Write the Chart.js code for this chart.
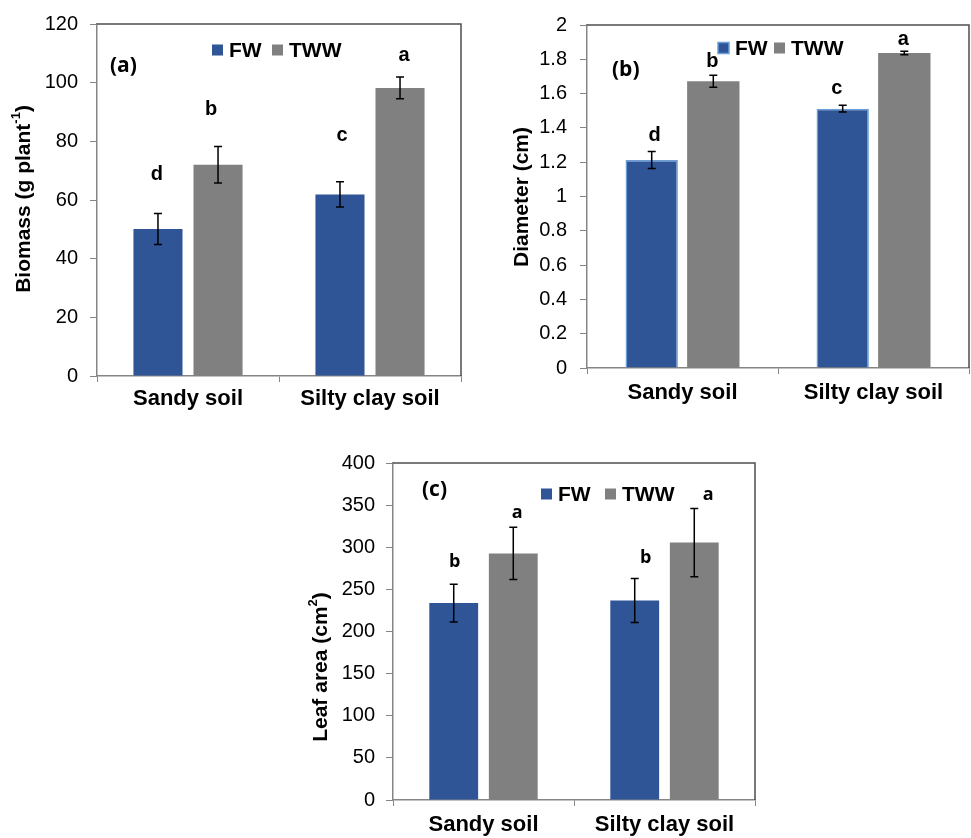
<!DOCTYPE html>
<html>
<head>
<meta charset="utf-8">
<script src="https://cdn.jsdelivr.net/npm/chart.js@4.4.1/dist/chart.umd.min.js"></script>
<style>
  body { margin: 0; background: #fff; width: 971px; height: 838px; position: relative; overflow: hidden; }
  canvas { position: absolute; }
</style>
</head>
<body>
<canvas id="chartA" width="475" height="420" style="left:0;top:0"></canvas>
<canvas id="chartB" width="481" height="420" style="left:490px;top:0"></canvas>
<canvas id="chartC" width="480" height="398" style="left:300px;top:440px"></canvas>
<script>
// ---------- Data ----------
const categories = ["Sandy soil", "Silty clay soil"];
const seriesNames = ["FW", "TWW"];

// (a) biomass, g plant-1
const biomassFW = [50.1, 61.9];
const biomassTWW = [72.0, 98.2];
const biomassFWErr = [5.3, 4.3];
const biomassTWWErr = [6.2, 3.7];
const biomassLettersFW = ["d", "c"];
const biomassLettersTWW = ["b", "a"];
const biomassTicks = ["0", "20", "40", "60", "80", "100", "120"];

// (b) diameter, cm
const diameterFW = [1.213, 1.512];
const diameterTWW = [1.672, 1.837];
const diameterFWErr = [0.05, 0.02];
const diameterTWWErr = [0.035, 0.01];
const diameterLettersFW = ["d", "c"];
const diameterLettersTWW = ["b", "a"];
const diameterTicks = ["0", "0.2", "0.4", "0.6", "0.8", "1", "1.2", "1.4", "1.6", "1.8", "2"];

// (c) leaf area, cm2
const leafFW = [233.8, 236.8];
const leafTWW = [292.7, 305.5];
const leafFWErr = [22.4, 26.1];
const leafTWWErr = [31.0, 40.5];
const leafLettersFW = ["b", "b"];
const leafLettersTWW = ["a", "a"];
const leafTicks = ["0", "50", "100", "150", "200", "250", "300", "350", "400"];

// ---------- Colors / fonts ----------
const FW_COLOR = "#2F5597";
const TWW_COLOR = "#808080";
const AXIS_COLOR = "#858585";
const FRAME_COLOR = "#4d4d4d";
const ARIAL = "'Liberation Sans', Arial, sans-serif";
const CALIBRI = "'Open Sans', 'Liberation Sans', sans-serif";

// ---------- Extras plugin: frame, error bars, letters, legend, tag, y title ----------
function drawRich(ctx, parts, size, font) {
  let total = 0;
  parts.forEach(p => {
    ctx.font = "bold " + (p.sup ? Math.round(size * 0.62) : size) + "px " + font;
    p.w = ctx.measureText(p.text).width;
    total += p.w;
  });
  let x = -total / 2;
  parts.forEach(p => {
    ctx.font = "bold " + (p.sup ? Math.round(size * 0.62) : size) + "px " + font;
    ctx.fillText(p.text, x, p.sup ? -size * 0.36 : 0);
    x += p.w;
  });
}

const extras = {
  id: "extras",
  afterDatasetsDraw(chart, args, o) {
    const ctx = chart.ctx;
    const area = chart.chartArea;
    const y = chart.scales.y;
    ctx.save();

    // top and right frame
    ctx.strokeStyle = FRAME_COLOR;
    ctx.lineWidth = 1.5;
    ctx.beginPath();
    ctx.moveTo(area.left, area.top);
    ctx.lineTo(area.right, area.top);
    ctx.lineTo(area.right, area.bottom);
    ctx.stroke();

    // error bars and letters
    chart.data.datasets.forEach((ds, di) => {
      const meta = chart.getDatasetMeta(di);
      meta.data.forEach((bar, i) => {
        const v = ds.data[i], e = ds.errors[i];
        const yTop = y.getPixelForValue(v + e);
        const yBot = y.getPixelForValue(v - e);
        ctx.strokeStyle = "#000";
        ctx.lineWidth = 1.5;
        ctx.beginPath();
        ctx.moveTo(bar.x, yTop); ctx.lineTo(bar.x, yBot);
        ctx.moveTo(bar.x - 4, yTop); ctx.lineTo(bar.x + 4, yTop);
        ctx.moveTo(bar.x - 4, yBot); ctx.lineTo(bar.x + 4, yBot);
        ctx.stroke();

        const shift = o.letterShift[di][i];
        ctx.fillStyle = "#000";
        ctx.font = "bold " + o.letterSize + "px " + o.letterFont;
        ctx.textAlign = "center";
        ctx.textBaseline = "middle";
        ctx.fillText(ds.letters[i], bar.x + shift[0], yTop - shift[1]);
      });
    });

    // legend
    ctx.textAlign = "left";
    ctx.textBaseline = "middle";
    ctx.font = "bold 21px " + ARIAL;
    chart.data.datasets.forEach((ds, di) => {
      const lx = area.left + o.legendX[di];
      const ly = area.top + o.legendY;
      ctx.fillStyle = ds.backgroundColor;
      ctx.fillRect(lx, ly - 5.5, 11, 11);
      if (ds.borderWidth) {
        ctx.strokeStyle = ds.borderColor;
        ctx.lineWidth = 1.5;
        ctx.strokeRect(lx, ly - 5.5, 11, 11);
      }
      ctx.fillStyle = "#000";
      ctx.fillText(ds.label, lx + 17, ly + 1);
    });

    // panel tag
    ctx.font = "bold 21px " + CALIBRI;
    ctx.fillText(o.tag, area.left + o.tagPos[0], area.top + o.tagPos[1]);

    // y title (rotated, with superscript)
    ctx.translate(o.titlePos[0], o.titlePos[1]);
    ctx.rotate(-Math.PI / 2);
    ctx.textBaseline = "middle";
    drawRich(ctx, o.title, 21, ARIAL);

    ctx.restore();
  }
};

// ---------- Chart builder ----------
function makeChart(id, p) {
  const step = Number(p.ticks[1]) - Number(p.ticks[0]);
  return new Chart(document.getElementById(id), {
    type: "bar",
    data: {
      labels: categories,
      datasets: [
        { label: seriesNames[0], data: p.fw, errors: p.fwErr, letters: p.fwLetters,
          backgroundColor: FW_COLOR, borderColor: p.fwBorder || FW_COLOR, borderWidth: p.fwBorder ? 1.5 : 0,
          barPercentage: p.barPct, categoryPercentage: p.catPct },
        { label: seriesNames[1], data: p.tww, errors: p.twwErr, letters: p.twwLetters,
          backgroundColor: TWW_COLOR, borderWidth: 0,
          barPercentage: p.barPct, categoryPercentage: p.catPct }
      ]
    },
    options: {
      responsive: false,
      animation: false,
      layout: { padding: p.padding },
      plugins: {
        legend: { display: false },
        tooltip: { enabled: false },
        extras: p.extras
      },
      scales: {
        x: {
          grid: { drawOnChartArea: false, offset: true, tickLength: 6, color: AXIS_COLOR },
          border: { color: AXIS_COLOR, width: 1.5 },
          ticks: { color: "#000", font: { family: ARIAL, size: 22, weight: "bold" }, padding: p.xPad, maxRotation: 0 },
          afterFit: s => { s.height = p.xHeight; }
        },
        y: {
          min: Number(p.ticks[0]),
          max: Number(p.ticks[p.ticks.length - 1]),
          ticks: {
            stepSize: step,
            color: "#000",
            font: { family: ARIAL, size: 20 },
            padding: p.yPad,
            callback: (v, i) => p.ticks[i]
          },
          grid: { drawOnChartArea: false, tickLength: 7, color: AXIS_COLOR },
          border: { color: AXIS_COLOR, width: 1.5 },
          afterFit: s => { s.width = p.yWidth; }
        }
      }
    },
    plugins: [extras]
  });
}

// ---------- Panels ----------
makeChart("chartA", {
  fw: biomassFW, tww: biomassTWW, fwErr: biomassFWErr, twwErr: biomassTWWErr,
  fwLetters: biomassLettersFW, twwLetters: biomassLettersTWW, ticks: biomassTicks,
  barPct: 0.817, catPct: 0.66,
  padding: { left: 0, top: 19, right: 14, bottom: 0 },
  yWidth: 97, xHeight: 44, xPad: 4, yPad: 12,
  extras: {
    tag: "(a)", tagPos: [13, 42],
    legendX: [115, 175], legendY: 26,
    letterFont: ARIAL, letterSize: 20,
    letterShift: [[[-1, 39], [2, 46]], [[-7, 37], [4, 22]]],
    titlePos: [24, 199],
    title: [{ text: "Biomass (g plant" }, { text: "-1", sup: true }, { text: ")" }]
  }
});

makeChart("chartB", {
  fw: diameterFW, tww: diameterTWW, fwErr: diameterFWErr, twwErr: diameterTWWErr,
  fwLetters: diameterLettersFW, twwLetters: diameterLettersTWW, ticks: diameterTicks,
  fwBorder: "#6A9FD8",
  barPct: 0.85, catPct: 0.645,
  padding: { left: 0, top: 25, right: 2, bottom: 0 },
  yWidth: 97, xHeight: 52, xPad: 6, yPad: 13,
  extras: {
    tag: "(b)", tagPos: [25, 45],
    legendX: [131, 187], legendY: 23,
    letterFont: ARIAL, letterSize: 20,
    letterShift: [[[3, 16], [-6, 17]], [[-1, 14], [-1, 12]]],
    titlePos: [32, 197],
    title: [{ text: "Diameter (cm)" }]
  }
});

makeChart("chartC", {
  fw: leafFW, tww: leafTWW, fwErr: leafFWErr, twwErr: leafTWWErr,
  fwLetters: leafLettersFW, twwLetters: leafLettersTWW, ticks: leafTicks,
  barPct: 0.82, catPct: 0.658,
  padding: { left: 0, top: 21, right: 25, bottom: 0 },
  yWidth: 93, xHeight: 38, xPad: 6, yPad: 11,
  extras: {
    tag: "(c)", tagPos: [29, 27],
    legendX: [148, 212], legendY: 31,
    letterFont: CALIBRI, letterSize: 18,
    letterShift: [[[1, 22], [11, 21]], [[4, 14], [14, 14]]],
    titlePos: [21, 227],
    title: [{ text: "Leaf area (cm" }, { text: "2", sup: true }, { text: ")" }]
  }
});
</script>
</body>
</html>
